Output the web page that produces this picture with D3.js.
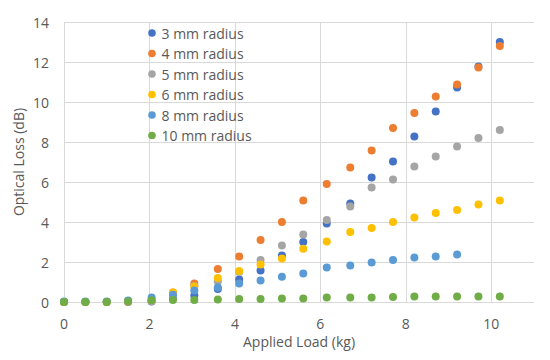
<!DOCTYPE html>
<html>
<head>
<meta charset="utf-8">
<script src="https://cdn.jsdelivr.net/npm/d3@7"></script>
<style>
body { margin: 0; background: #fff; }
text { font-family: "Open Sans", "Liberation Sans", sans-serif; fill: #595959; }
</style>
</head>
<body>
<svg width="550" height="360"></svg>
<script>
svg = d3.select("svg");

var loads = [0, 0.5, 1.0, 1.5, 2.05, 2.55, 3.05, 3.6, 4.1, 4.6, 5.1, 5.6, 6.15, 6.7, 7.2, 7.7, 8.2, 8.7, 9.2, 9.7, 10.2];

var names = ["3 mm radius", "4 mm radius", "5 mm radius", "6 mm radius", "8 mm radius", "10 mm radius"];
var colors = ["#4472C4", "#ED7D31", "#A5A5A5", "#FFC000", "#5B9BD5", "#70AD47"];

var r3 = [0, 0, 0, 0.05, 0.03, 0.2, 0.32, 0.65, 1.12, 1.57, 2.33, 3.0, 3.93, 4.93, 6.23, 7.03, 8.28, 9.53, 10.72, 11.77, 13.0];
var r4 = [0, 0, 0, 0, 0.05, 0.47, 0.93, 1.65, 2.27, 3.1, 4.0, 5.07, 5.9, 6.73, 7.58, 8.7, 9.45, 10.27, 10.88, 11.73, 12.8];
var r5 = [0, 0, 0, 0, 0.05, 0.3, 0.8, 1.02, 1.5, 2.1, 2.83, 3.37, 4.1, 4.77, 5.73, 6.12, 6.77, 7.28, 7.77, 8.2, 8.6];
var r6 = [0, 0, 0, 0.05, 0.1, 0.47, 0.77, 1.2, 1.55, 1.88, 2.18, 2.66, 3.03, 3.5, 3.7, 4.0, 4.23, 4.45, 4.6, 4.87, 5.07];
var r8 = [0.02, 0.02, 0.03, 0.08, 0.22, 0.36, 0.57, 0.72, 0.92, 1.07, 1.26, 1.43, 1.72, 1.82, 1.98, 2.1, 2.22, 2.27, 2.37];
var r10 = [0, 0, 0, 0.03, 0.09, 0.1, 0.1, 0.13, 0.15, 0.15, 0.17, 0.18, 0.22, 0.23, 0.23, 0.25, 0.28, 0.28, 0.28, 0.28, 0.28];

var series = [r3, r4, r5, r6, r8, r10];

var xTicks = [0, 2, 4, 6, 8, 10];
var yTicks = [0, 2, 4, 6, 8, 10, 12, 14];

var pLeft = 64, pRight = 534, pTop = 22, pBottom = 302;

x = d3.scaleLinear().domain([0, 11]).range([pLeft, pRight]);
y = d3.scaleLinear().domain([0, 14]).range([pBottom, pTop]);

// grid
grid = svg.append("g").attr("class", "grid");
grid.selectAll("line.h").data(yTicks).enter().append("line")
	.attr("x1", pLeft).attr("x2", pRight)
	.attr("y1", function(d) { return Math.round(y(d)) + 0.5 })
	.attr("y2", function(d) { return Math.round(y(d)) + 0.5 })
	.attr("stroke", "#D9D9D9");
grid.selectAll("line.v").data(xTicks).enter().append("line")
	.attr("y1", pTop).attr("y2", pBottom)
	.attr("x1", function(d) { return Math.round(x(d)) + 0.5 })
	.attr("x2", function(d) { return Math.round(x(d)) + 0.5 })
	.attr("stroke", "#D9D9D9");

// tick labels
svg.append("g").selectAll("text").data(yTicks).enter().append("text")
	.attr("x", 49).attr("y", function(d) { return y(d) })
	.attr("text-anchor", "end").attr("dominant-baseline", "central")
	.style("font-size", "14px")
	.text(function(d) { return d });
svg.append("g").selectAll("text").data(xTicks).enter().append("text")
	.attr("x", function(d) { return x(d) }).attr("y", 323)
	.attr("text-anchor", "middle").attr("dominant-baseline", "central")
	.style("font-size", "14px")
	.text(function(d) { return d });

// axis titles
svg.append("text")
	.attr("x", (pLeft + pRight) / 2).attr("y", 341)
	.attr("text-anchor", "middle").attr("dominant-baseline", "central")
	.style("font-size", "14px")
	.text("Applied Load (kg)");
svg.append("text")
	.attr("transform", "translate(" + [18, (pTop + pBottom) / 2] + ") rotate(-90)")
	.attr("text-anchor", "middle").attr("dominant-baseline", "central")
	.style("font-size", "14px")
	.text("Optical Loss (dB)");

// points
series.forEach(function(vals, i) {
	svg.append("g").selectAll("circle").data(vals).enter().append("circle")
		.attr("cx", function(d, j) { return x(loads[j]) })
		.attr("cy", function(d) { return y(d) })
		.attr("r", 4)
		.attr("fill", colors[i]);
});

// legend
legend = svg.append("g").attr("transform", "translate(" + [152, 33] + ")");
names.forEach(function(n, i) {
	row = legend.append("g").attr("transform", "translate(" + [0, i * 20.5] + ")");
	row.append("circle").attr("r", 3.8).attr("fill", colors[i]);
	row.append("text").attr("x", 9.5).attr("dominant-baseline", "central")
		.style("font-size", "14px").text(n);
});
</script>
</body>
</html>
